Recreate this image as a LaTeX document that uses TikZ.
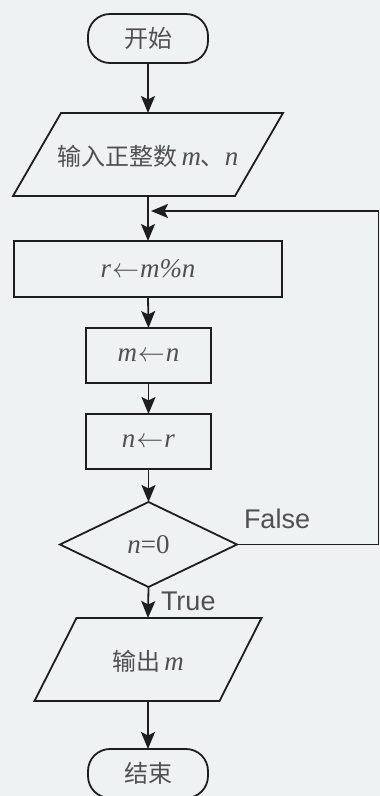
\documentclass[tikz,border=0pt]{standalone}
\usepackage{fix-cm}
\usepackage{fontspec}
\newfontfamily\cjk{Noto Sans CJK SC}
\newfontfamily\lsans{Liberation Sans}
\newfontfamily\tms{Liberation Serif}
\usetikzlibrary{arrows.meta}
\definecolor{bg}{RGB}{239,242,243}
\definecolor{ln}{RGB}{30,30,30}
\definecolor{tx}{RGB}{80,80,80}
\newcommand{\vi}[1]{{\tms\itshape #1}}
\newcommand{\la}{\kern1pt${\leftarrow}$\kern1pt}
\begin{document}
\begin{tikzpicture}[x=1pt,y=1pt,
  every node/.style={inner sep=0pt,outer sep=0pt,text=tx},
  cn/.style={font=\cjk\fontsize{24}{27}\selectfont},
  mt/.style={font=\tms\fontsize{27}{30}\selectfont},
  term/.style={draw=ln,line width=1.8pt,rounded corners=22pt,minimum width=120pt,minimum height=49pt},
  procbox/.style={draw=ln,line width=1.8pt,minimum height=56pt},
  ghost/.style={draw=none},
  shp/.style={draw=ln,line width=1.8pt,line join=miter},
  conn/.style={draw=ln,line width=1.8pt,-{Stealth[length=17pt,width=14pt,inset=3.5pt]}},
  lbl/.style={font=\lsans\fontsize{27}{30}\selectfont,text=tx}]
\fill[bg] (0,0) rectangle (380,-796);
\useasboundingbox (0,0) rectangle (380,-796);

\node[term,cn] (start) at (148,-38.5) {开始};
\node[ghost,minimum width=222pt,minimum height=83pt] (in) at (148,-154.5) {};
\draw[shp] ([xshift=24pt]in.north west) -- ([xshift=24pt]in.north east) -- ([xshift=-24pt]in.south east) -- ([xshift=-24pt]in.south west) -- cycle;
\node[cn,anchor=center] (intext) at (148,-156) {输入正整数\,\vi{\fontsize{27}{30}\selectfont m}、\vi{\fontsize{27}{30}\selectfont n}};

\node[procbox,mt,minimum width=268pt] (b1) at (148,-269) {\vi{r}\la\vi{m\%n}};
\node[procbox,mt,minimum width=125pt,minimum height=55pt] (b2) at (148.5,-355.5) {\vi{m}\la\vi{n}};
\node[procbox,mt,minimum width=125pt,minimum height=55pt] (b3) at (148.5,-441.5) {\vi{n}\la\vi{r}};

\node[ghost,minimum width=177pt,minimum height=85pt] (dec) at (148.5,-544.5) {};
\draw[shp] (dec.north) -- (dec.east) -- (dec.south) -- (dec.west) -- cycle;
\node[mt] (dectext) at (148.5,-544.5) {\vi{n}=0};

\node[ghost,minimum width=185pt,minimum height=83pt] (out) at (148,-659.5) {};
\draw[shp] ([xshift=21pt]out.north west) -- ([xshift=21pt]out.north east) -- ([xshift=-21pt]out.south east) -- ([xshift=-21pt]out.south west) -- cycle;
\node[cn] (outtext) at (148,-661) {输出\,\vi{\fontsize{27}{30}\selectfont m}};

\node[term,cn] (stop) at (148,-773.5) {结束};

\coordinate (mergeR) at (151,-211);
\coordinate (cornerB) at (378.5,-544.5);
\coordinate (cornerT) at (378.5,-211);

\draw[conn] (start.south) -- (in.north);
\draw[conn] (in.south) -- (b1.north);
\draw[conn] (b1.south) -- (b2.north);
\draw[conn] (b2.south) -- (b3.north);
\draw[conn] (b3.south) -- (dec.north);
\draw[conn] (dec.south) -- (out.north);
\draw[conn] (out.south) -- (stop.north);
\draw[conn] (dec.east) -- (cornerB) -- (cornerT) -- (mergeR);

\node[lbl,anchor=west] (flabel) at (244,-519) {False};
\node[lbl,anchor=west] (tlabel) at (161,-601) {True};
\end{tikzpicture}
\end{document}
